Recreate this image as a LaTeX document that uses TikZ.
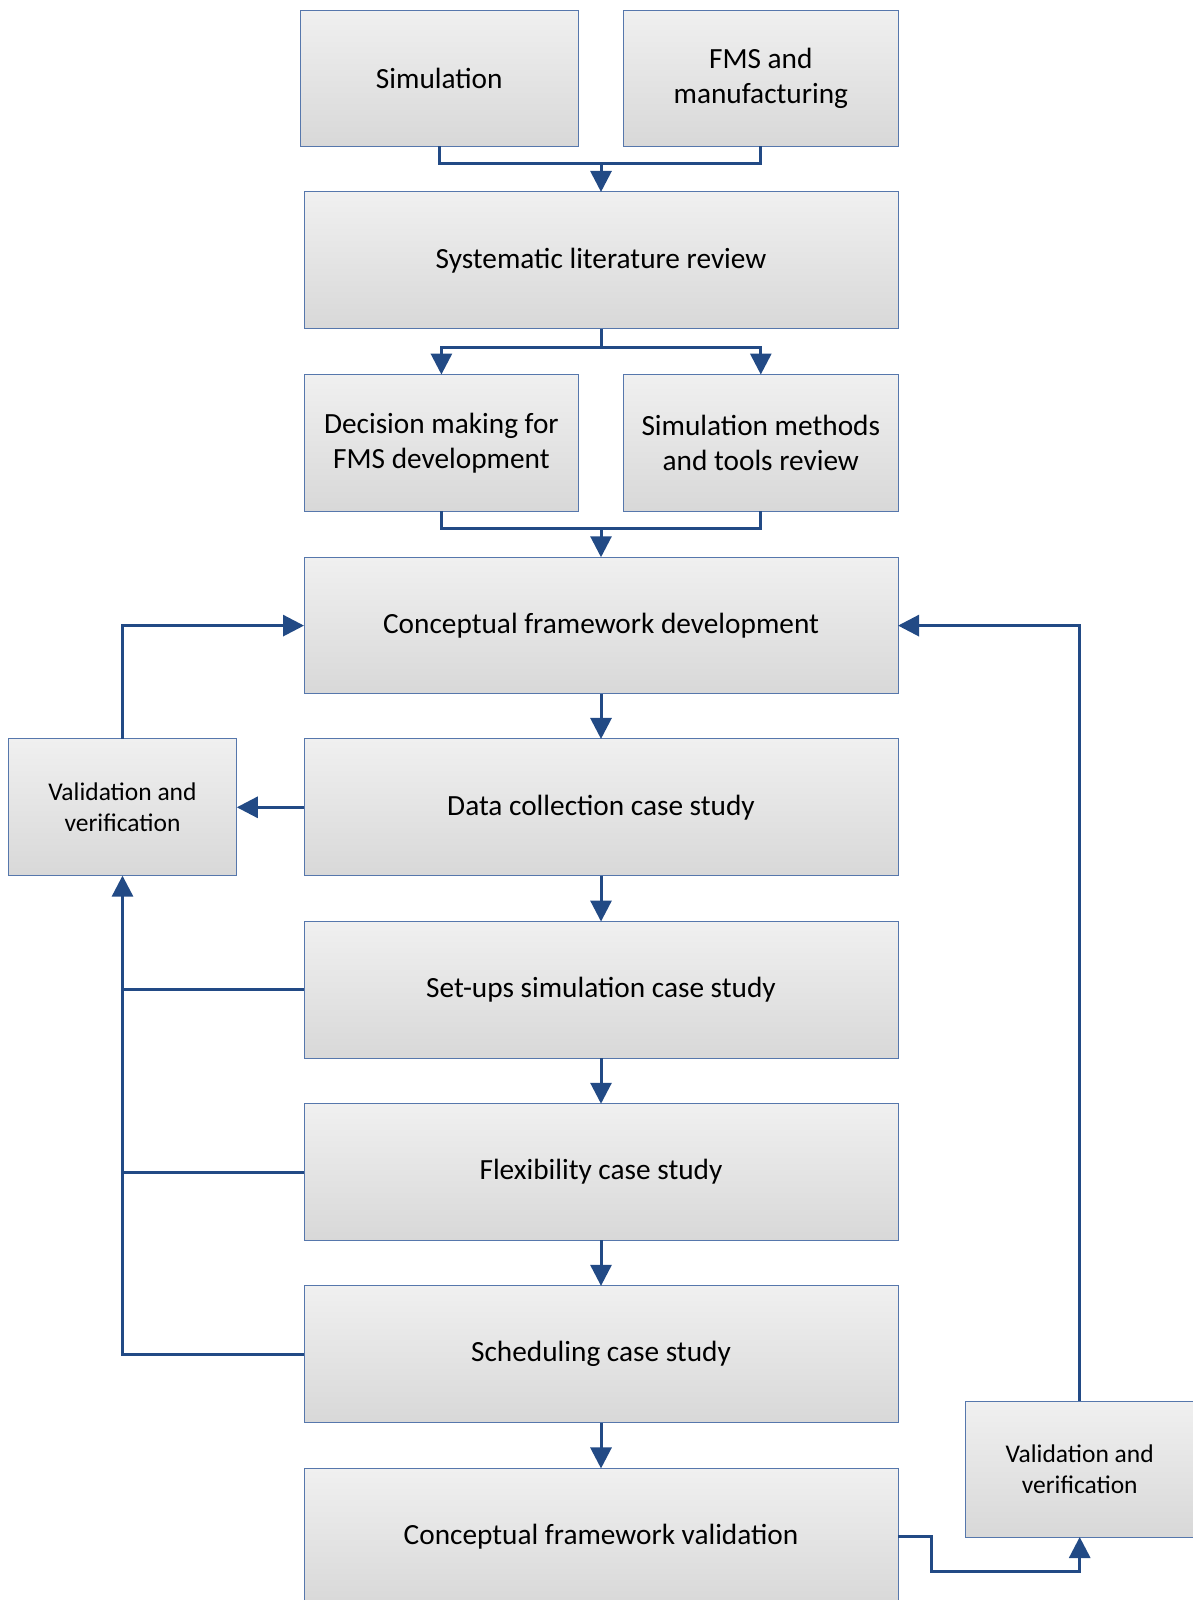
\documentclass[tikz,border=0pt]{standalone}
\usepackage{fontspec}
\setmainfont{Carlito}
\usetikzlibrary{arrows.meta,calc}
\definecolor{boxtop}{HTML}{F0F0F0}
\definecolor{boxbot}{HTML}{D8D8D8}
\definecolor{boxedge}{HTML}{5677AC}
\definecolor{linkcol}{HTML}{224A85}
\tikzset{
  box/.style={draw=boxedge, line width=1pt, top color=boxtop, bottom color=boxbot,
    inner sep=0pt, outer sep=0pt, align=center, text=black,
    font=\fontsize{29.3}{35.2}\selectfont},
  vvbox/.style={box, font=\fontsize{25.5}{30.6}\selectfont},
  link/.style={draw=linkcol, line width=3pt},
  arrowlink/.style={link, -{Triangle[length=21pt,width=21pt]}},
}
\begin{document}
\begin{tikzpicture}[x=1pt,y=-1pt]
\useasboundingbox (0,0) rectangle (1193,1600);
\clip (0,0) rectangle (1193,1600);

% literature sources
\node[box, minimum width=278.6pt, minimum height=136pt] (sim) at (439.3,78.1) {Simulation};
\node[box, minimum width=274.5pt, minimum height=136pt] (fms) at (760.8,78.1) {FMS and\\manufacturing};

% review stage
\node[box, minimum width=594pt, minimum height=136.7pt] (sys) at (601,260.3) {Systematic literature review};
\node[box, minimum width=274.5pt, minimum height=136.7pt] (dec) at (441.4,442.9) {Decision making for\\FMS development};
\node[box, minimum width=274.5pt, minimum height=136.7pt] (smt) at (760.8,442.9) {Simulation methods\\and tools review};

% framework and case studies
\node[box, minimum width=594pt, minimum height=136.7pt] (cdev) at (601,625.6) {Conceptual framework development};
\node[box, minimum width=594pt, minimum height=136.7pt] (data) at (601,807.3) {Data collection case study};
\node[box, minimum width=594pt, minimum height=136.7pt] (setup) at (601,989.9) {Set-ups simulation case study};
\node[box, minimum width=594pt, minimum height=136.7pt] (flex) at (601,1172.1) {Flexibility case study};
\node[box, minimum width=594pt, minimum height=136.7pt] (sched) at (601,1354.2) {Scheduling case study};
\node[box, minimum width=594pt, minimum height=136.7pt] (cval) at (601,1536.8) {Conceptual framework validation};

% validation boxes
\node[vvbox, minimum width=228.6pt, minimum height=136.7pt] (vvl) at (122.5,807.3) {Validation and\\verification};
\node[vvbox, minimum width=228.6pt, minimum height=135.8pt] (vvr) at (1079.7,1469.1) {Validation and\\verification};

% junction points
\coordinate (j1) at (601,163.3);
\coordinate (j2) at (601,347);
\coordinate (j3) at (601,528.6);
\coordinate (c1) at (931.7,1571.6);

% top merges and splits
\draw[link] (sim.south) |- (j1) -| (fms.south);
\draw[arrowlink] (j1) -- (sys.north);
\draw[link] (sys.south) -- (j2);
\draw[arrowlink] (j2) -| (dec.north);
\draw[arrowlink] (j2) -| (smt.north);
\draw[link] (dec.south) |- (j3) -| (smt.south);
\draw[arrowlink] (j3) -- (cdev.north);

% main chain
\draw[arrowlink] (cdev) -- (data);
\draw[arrowlink] (data) -- (setup);
\draw[arrowlink] (setup) -- (flex);
\draw[arrowlink] (flex) -- (sched);
\draw[arrowlink] (sched) -- (cval);

% left feedback loop
\draw[arrowlink] (data.west) -- (vvl.east);
\draw[arrowlink] (vvl.north) |- (cdev.west);
\draw[link] (setup.west) -- (setup.west -| vvl.south);
\draw[link] (flex.west) -- (flex.west -| vvl.south);
\draw[arrowlink] (sched.west) -| (vvl.south);

% right feedback loop
\draw[arrowlink] (cval.east) -- (c1 |- cval.east) -- (c1) -| (vvr.south);
\draw[arrowlink] (vvr.north) |- (cdev.east);
\end{tikzpicture}
\end{document}
